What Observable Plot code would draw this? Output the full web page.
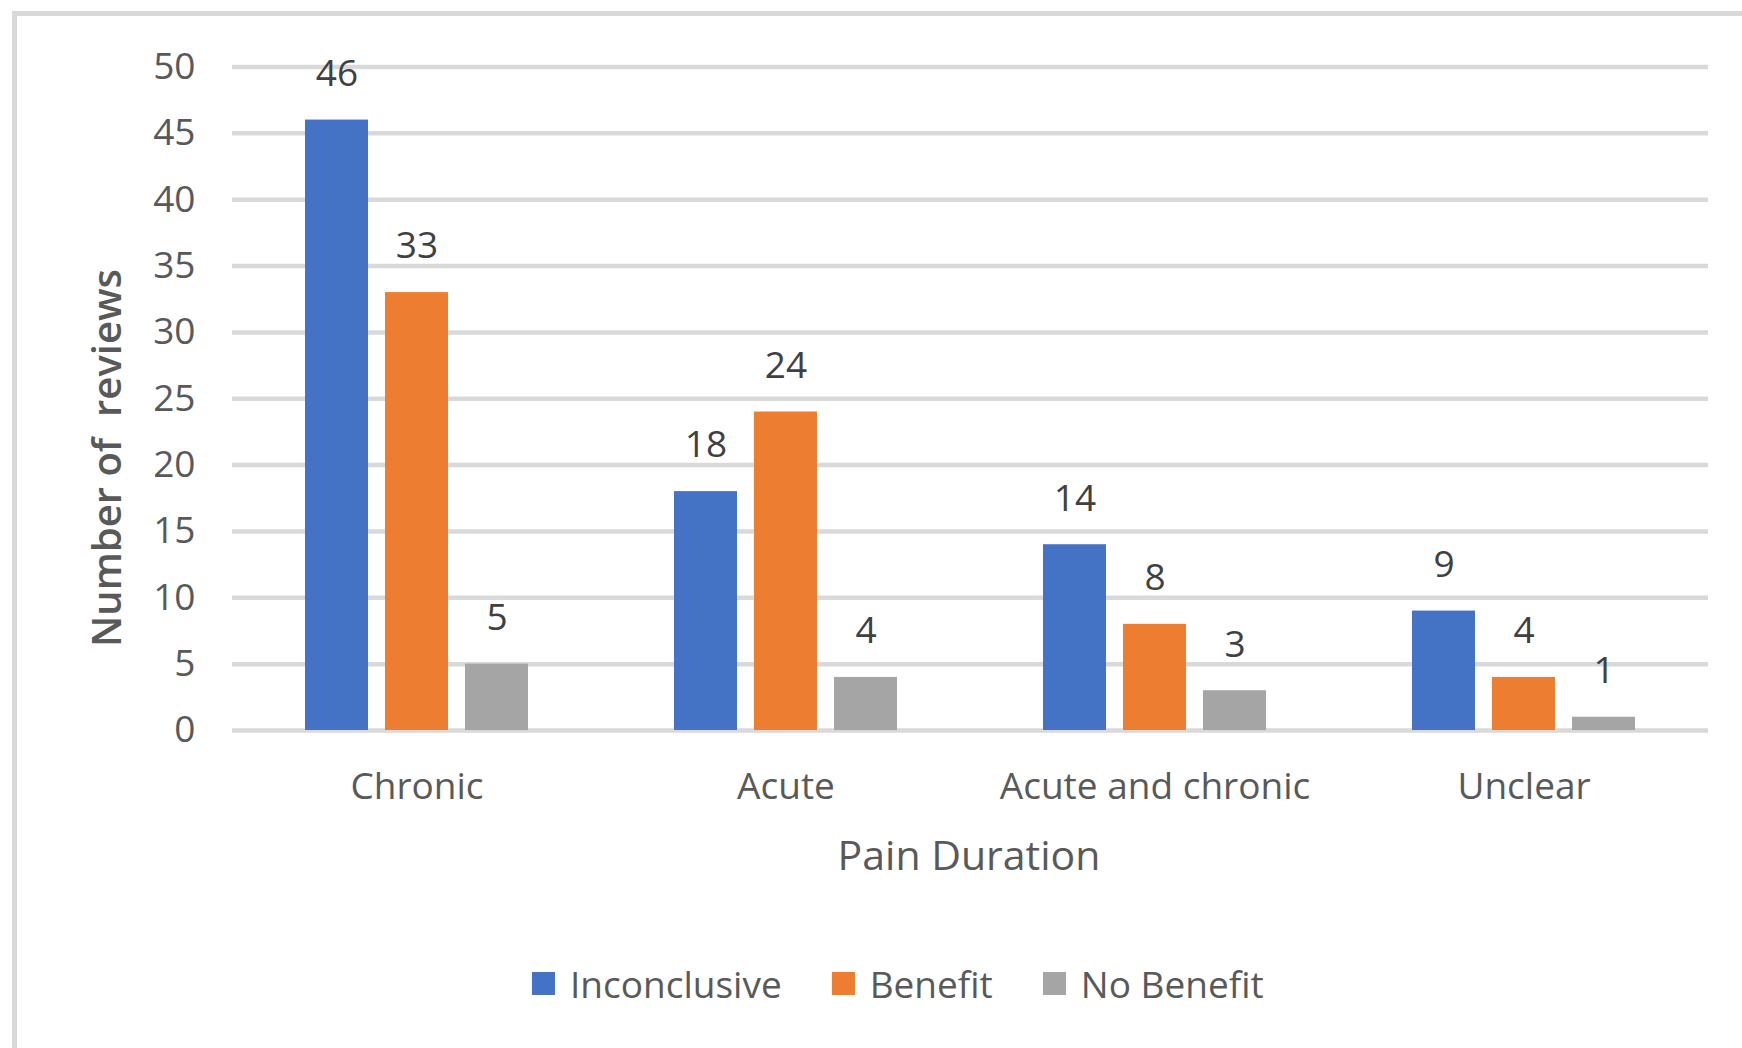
<!DOCTYPE html>
<html>
<head>
<meta charset="utf-8">
<script src="https://cdn.jsdelivr.net/npm/d3@7"></script>
<script src="https://cdn.jsdelivr.net/npm/@observablehq/plot@0.6"></script>
<style>
  html, body { margin: 0; padding: 0; background: #fff; overflow: hidden; width: 1742px; height: 1048px; }
  body { position: relative; font-family: "Open Sans", sans-serif; }
  #frame { position: absolute; left: 12px; top: 11px; width: 1900px; height: 1200px; border: 5px solid #d9d9d9; box-sizing: border-box; }
  #chart { position: absolute; left: 0; top: 0; }
  #legend { position: absolute; left: 532px; top: 960px; height: 47px; display: flex; align-items: center; font-family: "Open Sans", sans-serif; font-size: 37px; color: #595959; }
  #legend .item { display: flex; align-items: center; margin-right: 50px; }
  #legend .sw { width: 23px; height: 23px; margin-right: 15px; }
</style>
</head>
<body>
<div id="frame"></div>
<div id="chart"></div>
<div id="legend"></div>
<script>
const categories = ["Chronic", "Acute", "Acute and chronic", "Unclear"];
const seriesNames = ["Inconclusive", "Benefit", "No Benefit"];
const inconclusive = [46, 18, 14, 9];
const benefit = [33, 24, 8, 4];
const noBenefit = [5, 4, 3, 1];
const seriesColors = ["#4472C4", "#ED7D31", "#A5A5A5"];
const yTicks = [0, 5, 10, 15, 20, 25, 30, 35, 40, 45, 50];
const yTitle = "Number of\u00a0 reviews";
const xTitle = "Pain Duration";

const seriesValues = [inconclusive, benefit, noBenefit];
const rows = [];
categories.forEach((c, i) => {
  seriesNames.forEach((s, j) => {
    rows.push({category: c, series: s, value: seriesValues[j][i]});
  });
});

const W = 1742, H = 930;
const plot = Plot.plot({
  width: W,
  height: H,
  marginLeft: 230,
  marginRight: 33,
  marginTop: 66.5,
  marginBottom: 200,
  style: {fontFamily: "Open Sans, sans-serif", background: "transparent"},
  fx: {domain: categories, padding: 0, label: null},
  x: {domain: seriesNames, paddingInner: 0.21, paddingOuter: 0.884, axis: null},
  y: {domain: [0, 50]},
  color: {domain: seriesNames, range: seriesColors},
  marks: [
    Plot.gridY(yTicks, {stroke: "#d9d9d9", strokeWidth: 4.5, strokeOpacity: 1}),
    Plot.axisY(yTicks, {tickSize: 0, tickPadding: 37, fontSize: 37, color: "#595959", label: null}),
    Plot.axisFx({anchor: "bottom", tickSize: 0, tickPadding: 42, fontSize: 37, color: "#595959", label: null}),
    Plot.barY(rows, {fx: "category", x: "series", y: "value", fill: "series"}),
    Plot.text(rows, {fx: "category", x: "series", y: "value", text: d => String(d.value), dy: -46, fontSize: 37, fill: "#404040"})
  ]
});
document.getElementById("chart").appendChild(plot);

// Axis titles
const svg = d3.select(plot);
svg.append("text")
  .attr("x", 969).attr("y", 870)
  .attr("text-anchor", "middle")
  .attr("font-family", "Open Sans, sans-serif")
  .attr("font-size", 41)
  .attr("fill", "#595959")
  .text(xTitle);
svg.append("text")
  .attr("transform", "translate(107,458) rotate(-90)")
  .attr("text-anchor", "middle")
  .attr("dy", "0.35em")
  .attr("font-family", "Open Sans, sans-serif")
  .attr("font-size", 40)
  .attr("font-weight", 600)
  .attr("fill", "#595959")
  .text(yTitle);

// Legend
const legend = d3.select("#legend");
seriesNames.forEach((s, i) => {
  const item = legend.append("div").attr("class", "item");
  item.append("div").attr("class", "sw").style("background", seriesColors[i]);
  item.append("span").text(s);
});
</script>
</body>
</html>
